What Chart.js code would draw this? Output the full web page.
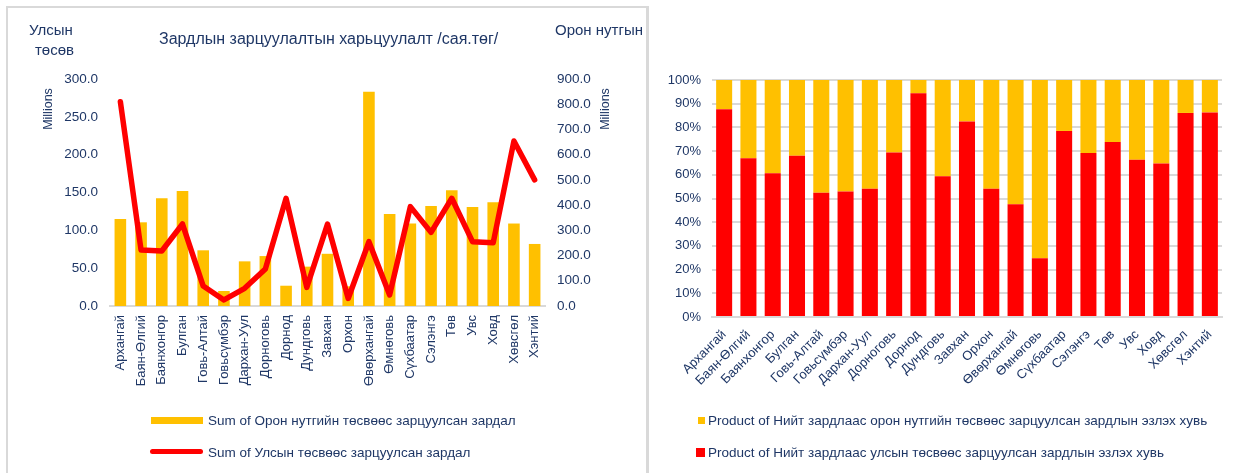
<!DOCTYPE html>
<html>
<head>
<meta charset="utf-8">
<script src="https://cdn.jsdelivr.net/npm/chart.js@4/dist/chart.umd.min.js"></script>
<style>
body { margin: 0; background: #fff; width: 1237px; height: 473px; overflow: hidden; position: relative;
       font-family: 'Liberation Sans', Arial, sans-serif; color: #1f3766; }
canvas { position: absolute; top: 0; }
.t { position: absolute; white-space: nowrap; line-height: 16px; }
.panel { position: absolute; left: 6px; top: 6px; width: 643px; height: 480px; box-sizing: border-box;
         border-left: 2px solid #d9d9d9; border-top: 2px solid #d9d9d9; border-right: 3px solid #d9d9d9; overflow: hidden; }
.rot { position: absolute; font-size: 12.5px; transform: translate(-50%, -50%) rotate(-90deg); white-space: nowrap; }
</style>
</head>
<body>
<canvas id="left" width="647" height="473" style="left:0"></canvas>
<canvas id="right" width="588" height="473" style="left:649px"></canvas>

<div class="panel">
  <div class="t" style="left:21px;top:14px;font-size:15px">Улсын</div>
  <div class="t" style="left:27px;top:34px;font-size:15px">төсөв</div>
  <div class="t" style="left:151px;top:23px;font-size:16px">Зардлын зарцуулалтын харьцуулалт /сая.төг/</div>
  <div class="t" style="left:547px;top:14px;font-size:15px">Орон нутгын</div>
</div>
<div class="rot" style="left:48px;top:109px">Millions</div>
<div class="rot" style="left:605px;top:109px">Millions</div>

<!-- left legend -->
<div style="position:absolute;left:151px;top:417px;width:52px;height:7px;background:#ffc000"></div>
<div class="t" style="left:208px;top:413px;font-size:13.5px">Sum of Орон нутгийн төсвөөс зарцуулсан зардал</div>
<div style="position:absolute;left:150px;top:449px;width:53px;height:5px;border-radius:3px;background:#ff0000"></div>
<div class="t" style="left:208px;top:445px;font-size:13.5px">Sum of Улсын төсвөөс зарцуулсан зардал</div>

<!-- right legend -->
<div style="position:absolute;left:698px;top:417px;width:7px;height:7px;background:#ffc000"></div>
<div class="t" style="left:708px;top:413px;font-size:13.5px">Product of Нийт зардлаас орон нутгийн төсвөөс зарцуулсан зардлын эзлэх хувь</div>
<div style="position:absolute;left:696px;top:448px;width:9px;height:9px;background:#ff0000"></div>
<div class="t" style="left:708px;top:445px;font-size:13.5px">Product of Нийт зардлаас улсын төсвөөс зарцуулсан зардлын эзлэх хувь</div>

<script>
const regions = ['Архангай', 'Баян-Өлгий', 'Баянхонгор', 'Булган', 'Говь-Алтай', 'Говьсүмбэр', 'Дархан-Уул',
    'Дорноговь', 'Дорнод', 'Дундговь', 'Завхан', 'Орхон', 'Өвөрхангай', 'Өмнөговь', 'Сүхбаатар',
    'Сэлэнгэ', 'Төв', 'Увс', 'Ховд', 'Хөвсгөл', 'Хэнтий'];

// millions of togrog
const localSpend = [115, 110.6, 142.3, 152, 73.6, 19.8, 59, 66, 26.8, 52, 69, 26, 283, 121.6, 109, 132, 153, 131, 137, 109, 82];
const stateSpend = [810, 222, 218, 325, 79, 24, 70, 147, 427, 74, 325, 30, 255, 44, 394, 292, 427, 255, 251, 654, 500];

// percent of total
const stateShare = [87.7, 67.0, 60.7, 68.0, 52.4, 53.0, 54.1, 69.4, 94.4, 59.4, 82.5, 54.1, 47.6, 24.8, 78.5, 69.2, 73.8, 66.3, 64.8, 86.1, 86.3];
const localShare = [12.3, 33.0, 39.3, 32.0, 47.6, 47.0, 45.9, 30.6, 5.6, 40.6, 17.5, 45.9, 52.4, 75.2, 21.5, 30.8, 26.2, 33.7, 35.2, 13.9, 13.7];

const leftTicks = ['0.0', '50.0', '100.0', '150.0', '200.0', '250.0', '300.0'];
const rightTicks = ['0.0', '100.0', '200.0', '300.0', '400.0', '500.0', '600.0', '700.0', '800.0', '900.0'];
const pctTicks = ['0%', '10%', '20%', '30%', '40%', '50%', '60%', '70%', '80%', '90%', '100%'];

Chart.defaults.font.family = "'Liberation Sans', Arial, sans-serif";
Chart.defaults.font.size = 13;
Chart.defaults.color = '#1f3766';

const leftChart = new Chart(document.getElementById('left'), {
    data: {
        labels: regions,
        datasets: [{
            type: 'line',
            label: 'Sum of Улсын төсвөөс зарцуулсан зардал',
            data: stateSpend,
            yAxisID: 'y1',
            borderColor: '#ff0000',
            borderWidth: 5.5,
            pointRadius: 0,
            tension: 0,
            borderJoinStyle: 'round',
            borderCapStyle: 'round',
            order: 0
        }, {
            type: 'bar',
            label: 'Sum of Орон нутгийн төсвөөс зарцуулсан зардал',
            data: localSpend,
            yAxisID: 'y',
            backgroundColor: '#ffc000',
            categoryPercentage: 1,
            barPercentage: 0.56,
            order: 1
        }]
    },
    options: {
        responsive: false,
        animation: false,
        layout: { padding: { top: 79, bottom: 67, left: 0, right: 0 } },
        plugins: { legend: { display: false }, tooltip: { enabled: false } },
        scales: {
            x: {
                grid: { display: false, drawTicks: false },
                border: { color: '#d9d9d9', width: 2 },
                ticks: { minRotation: 90, maxRotation: 90, autoSkip: false, padding: 9 },
                afterFit: s => { s.height = 100; }
            },
            y: {
                position: 'left', min: 0, max: 300,
                grid: { display: false, drawTicks: false }, border: { display: false },
                ticks: { stepSize: 50, padding: 12, font: { size: 13.5 }, callback: (v, i) => leftTicks[i] },
                afterFit: s => { s.width = 110; }
            },
            y1: {
                position: 'right', min: 0, max: 900,
                grid: { display: false, drawTicks: false }, border: { display: false },
                ticks: { stepSize: 100, padding: 12, font: { size: 13.5 }, callback: (v, i) => rightTicks[i] },
                afterFit: s => { s.width = 102; }
            }
        }
    }
});

const rightChart = new Chart(document.getElementById('right'), {
    type: 'bar',
    data: {
        labels: regions,
        datasets: [{
            label: 'Product of Нийт зардлаас улсын төсвөөс зарцуулсан зардлын эзлэх хувь',
            data: stateShare,
            backgroundColor: '#ff0000'
        }, {
            label: 'Product of Нийт зардлаас орон нутгийн төсвөөс зарцуулсан зардлын эзлэх хувь',
            data: localShare,
            backgroundColor: '#ffc000'
        }]
    },
    options: {
        responsive: false,
        animation: false,
        layout: { padding: { top: 80, bottom: 56, left: 0, right: 15 } },
        datasets: { bar: { categoryPercentage: 1, barPercentage: 0.66 } },
        plugins: { legend: { display: false }, tooltip: { enabled: false } },
        scales: {
            x: {
                stacked: true,
                grid: { display: false, drawTicks: false },
                border: { color: '#d9d9d9', width: 2 },
                ticks: { minRotation: 45, maxRotation: 45, autoSkip: false, padding: 10 },
                afterFit: s => { s.height = 100; }
            },
            y: {
                stacked: true, min: 0, max: 100,
                grid: { color: '#d9d9d9', lineWidth: 2, drawTicks: false },
                border: { display: false },
                ticks: { stepSize: 10, padding: 11, callback: (v, i) => pctTicks[i] },
                afterFit: s => { s.width = 63; }
            }
        }
    }
});
</script>
</body>
</html>
